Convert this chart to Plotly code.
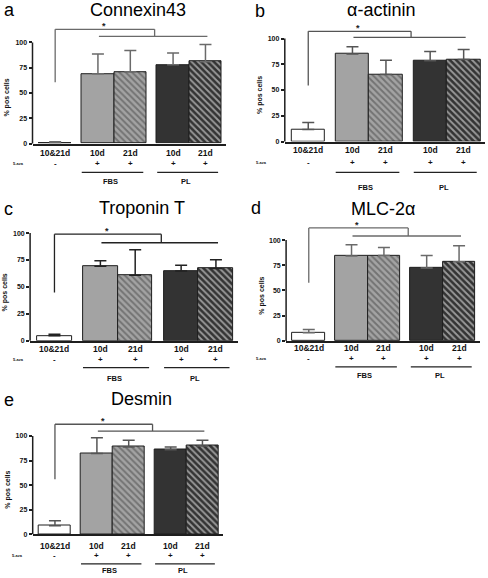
import plotly.graph_objects as go

W, H = 488, 578

# ---------------- data ----------------
categories = ["10&21d", "10d", "21d", "10d", "21d"]
aza_signs = ["-", "+", "+", "+", "+"]
group_labels = ["FBS", "PL"]
titles = ["Connexin43", "α-actinin", "Troponin T", "MLC-2α", "Desmin"]
letters = ["a", "b", "c", "d", "e"]
yticks = [0, 25, 50, 75, 100]

connexin_vals = [0.8, 69, 71, 78, 81]
connexin_err = [0.9, 19.5, 21, 11.5, 17]
actinin_vals = [11.6, 85, 65, 78.5, 79.7]
actinin_err = [7, 7, 14, 9, 9.7]
troponin_vals = [4.5, 69.2, 60.8, 64.8, 67]
troponin_err = [1.4, 5, 23.8, 5.2, 8.3]
mlc_vals = [8.2, 84.2, 84.8, 72.4, 78.6]
mlc_err = [3, 11.2, 7.9, 12.4, 15.8]
desmin_vals = [8.5, 82.2, 88.9, 85.9, 89.9]
desmin_err = [5.1, 16.1, 6.7, 3, 5.7]

# significance bracket levels (% pos cells)
bracket_low = [60.6, 54.5, 44.7, 57.6, 56]
bracket_top = [113, 107, 99, 112, 112]
bracket_mid = [106, 101, 91, 104, 105]

values = [connexin_vals, actinin_vals, troponin_vals, mlc_vals, desmin_vals]
errors = [connexin_err, actinin_err, troponin_err, mlc_err, desmin_err]

# ---------------- layout / styling ----------------
FONT = "Liberation Sans, Arial, sans-serif"
pos = [0, 1.32, 2.32, 3.64, 4.64]           # bar slots on x axis
XR = [-0.7, 5.28]
YR = [0, 125]

geo = [
    dict(X0=32.5, X1=226.2, y0=144.3, h=1.016, tx=138, ty=10, lx=3, ly=10,
         off=[9, 20, 29, 38], azx=18, col="#6a6a6a"),
    dict(X0=284.8, X1=485.1, y0=142.3, h=1.036, tx=381, ty=10, lx=254, ly=11,
         off=[8, 21, 31, 46], azx=261, col="#555555"),
    dict(X0=30.1, X1=238.2, y0=342.5, h=1.082, tx=142, ty=209, lx=3, ly=210,
         off=[8.5, 18.5, 27, 38], azx=18, col="#222222"),
    dict(X0=286.1, X1=479.8, y0=342.7, h=1.014, tx=383, ty=210, lx=250, ly=209,
         off=[7.5, 18, 26, 35], azx=261, col="#6a6a6a"),
    dict(X0=32.7, X1=222.8, y0=536.9, h=0.986, tx=141, ty=401, lx=3, ly=402,
         off=[12, 21.5, 30, 37], azx=17, col="#555555"),
]

bar_colors = ["#ffffff", "#a3a3a3", "#a3a3a3", "#333333", "#333333"]
pat_shape = ["", "", "\\", "", "\\"]
pat_fg = ["#ffffff", "#a3a3a3", "#111111", "#333333", "#a8a8a8"]
pat_bg = bar_colors
pat_sol = [0.3, 0.3, 0.45, 0.3, 0.42]

fig = go.Figure()
shapes = []
annotations = []


def px_u(g, u):
    return g["X0"] + (u - XR[0]) / (XR[1] - XR[0]) * (g["X1"] - g["X0"])


def py_v(g, v):
    return g["y0"] - v * g["h"]


for i in range(5):
    g = geo[i]
    k = "" if i == 0 else str(i + 1)
    xa, ya = "x" + k, "y" + k
    fig.add_trace(go.Bar(
        x=pos, y=values[i], width=[1] * 5, xaxis=xa, yaxis=ya,
        marker=dict(color=bar_colors, line=dict(color="#1e1e1e", width=1),
                    pattern=dict(shape=pat_shape, fgcolor=pat_fg, bgcolor=pat_bg,
                                 size=4.5, solidity=pat_sol)),
        error_y=dict(type="data", array=errors[i], arrayminus=[0] * 5,
                     symmetric=False, color=g["col"], thickness=1.5, width=6),
        showlegend=False, hoverinfo="skip",
    ))
    dom_x = [g["X0"] / W, g["X1"] / W]
    dom_y = [1 - g["y0"] / H, 1 - (g["y0"] - YR[1] * g["h"]) / H]
    fig.layout["xaxis" + k] = dict(
        domain=dom_x, range=XR, anchor=ya, showline=True, linecolor="#1e1e1e",
        linewidth=1.5, showticklabels=False, ticks="", showgrid=False,
        zeroline=False, fixedrange=True)
    fig.layout["yaxis" + k] = dict(
        domain=dom_y, range=YR, anchor=xa, showline=False, tickvals=yticks,
        ticks="outside", ticklen=3, tickwidth=1.5, tickcolor="#1e1e1e",
        tickfont=dict(family=FONT, size=7, color="#111", weight="bold"),
        showgrid=False, zeroline=False, fixedrange=True)

    # y axis line only 0..100
    shapes.append(dict(type="line", xref="paper", yref="paper",
                       x0=g["X0"] / W, x1=g["X0"] / W,
                       y0=1 - py_v(g, 0) / H, y1=1 - py_v(g, 100) / H,
                       line=dict(color="#1e1e1e", width=1.5)))
    # significance bracket
    bl = dict(color=g["col"], width=1.3)
    shapes += [
        dict(type="line", xref=xa, yref=ya, x0=pos[0], x1=pos[0],
             y0=bracket_low[i], y1=bracket_top[i], line=bl),
        dict(type="line", xref=xa, yref=ya, x0=pos[0], x1=3.07,
             y0=bracket_top[i], y1=bracket_top[i], line=bl),
        dict(type="line", xref=xa, yref=ya, x0=3.07, x1=3.07,
             y0=bracket_top[i], y1=bracket_mid[i], line=bl),
        dict(type="line", xref=xa, yref=ya, x0=1.35, x1=4.7,
             y0=bracket_mid[i], y1=bracket_mid[i], line=bl),
    ]
    annotations.append(dict(xref=xa, yref=ya, x=1.5, y=bracket_top[i],
                            text="<b>*</b>", showarrow=False, yanchor="bottom",
                            yshift=-3, borderpad=0,
                            font=dict(family=FONT, size=9, color="#222")))

    # titles & letters
    annotations.append(dict(xref="paper", yref="paper", x=g["tx"] / W,
                            y=1 - g["ty"] / H, text=titles[i], showarrow=False,
                            xanchor="center", yanchor="middle", borderpad=0,
                            font=dict(family=FONT, size=18, color="#000")))
    annotations.append(dict(xref="paper", yref="paper", x=g["lx"] / W,
                            y=1 - g["ly"] / H, text=letters[i], showarrow=False,
                            xanchor="left", yanchor="middle", borderpad=0,
                            font=dict(family=FONT, size=18, color="#000")))
    # y title
    annotations.append(dict(xref="paper", yref="paper", x=(g["X0"] - 25) / W,
                            y=1 - py_v(g, 45) / H, text="<b>% pos cells</b>",
                            textangle=-90, showarrow=False,
                            xanchor="center", yanchor="middle",
                            font=dict(family=FONT, size=7, color="#111")))

    o = g["off"]
    for j in range(5):
        annotations.append(dict(xref=xa, yref="paper", x=pos[j],
                                y=1 - (g["y0"] + o[0]) / H, text="<b>%s</b>" % categories[j],
                                showarrow=False, xanchor="center", yanchor="middle",
                                borderpad=0,
                                font=dict(family=FONT, size=8.5, color="#111")))
        annotations.append(dict(xref=xa, yref="paper", x=pos[j],
                                y=1 - (g["y0"] + o[1]) / H, text="<b>%s</b>" % aza_signs[j],
                                showarrow=False, xanchor="center", yanchor="middle",
                                borderpad=0,
                                font=dict(family=FONT, size=8, color="#111")))
    annotations.append(dict(xref="paper", yref="paper", x=g["azx"] / W,
                            y=1 - (g["y0"] + o[1]) / H, text="<b>5-aza</b>",
                            showarrow=False, xanchor="center", yanchor="middle",
                            borderpad=0,
                            font=dict(family=FONT, size=4, color="#111")))
    for gi, (a, b) in enumerate([(0.82, 2.72), (3.15, 5.03)]):
        yl = 1 - (g["y0"] + o[2]) / H
        shapes.append(dict(type="line", xref="paper", yref="paper",
                           x0=px_u(g, a) / W, x1=px_u(g, b) / W, y0=yl, y1=yl,
                           line=dict(color="#222", width=1.2)))
        annotations.append(dict(xref="paper", yref="paper",
                                x=px_u(g, (a + b) / 2 - 0.05) / W,
                                y=1 - (g["y0"] + o[3]) / H,
                                text="<b>%s</b>" % group_labels[gi],
                                showarrow=False, xanchor="center", yanchor="middle",
                                borderpad=0,
                                font=dict(family=FONT, size=7.5, color="#111")))

fig.update_layout(
    width=W, height=H, margin=dict(l=0, r=0, t=0, b=0),
    paper_bgcolor="white", plot_bgcolor="white",
    shapes=shapes, annotations=annotations, bargap=0,
    font=dict(family=FONT),
)
fig.write_html("out.html", config={"displayModeBar": False},
               post_script="document.body.style.margin='0';document.body.style.padding='0';")
